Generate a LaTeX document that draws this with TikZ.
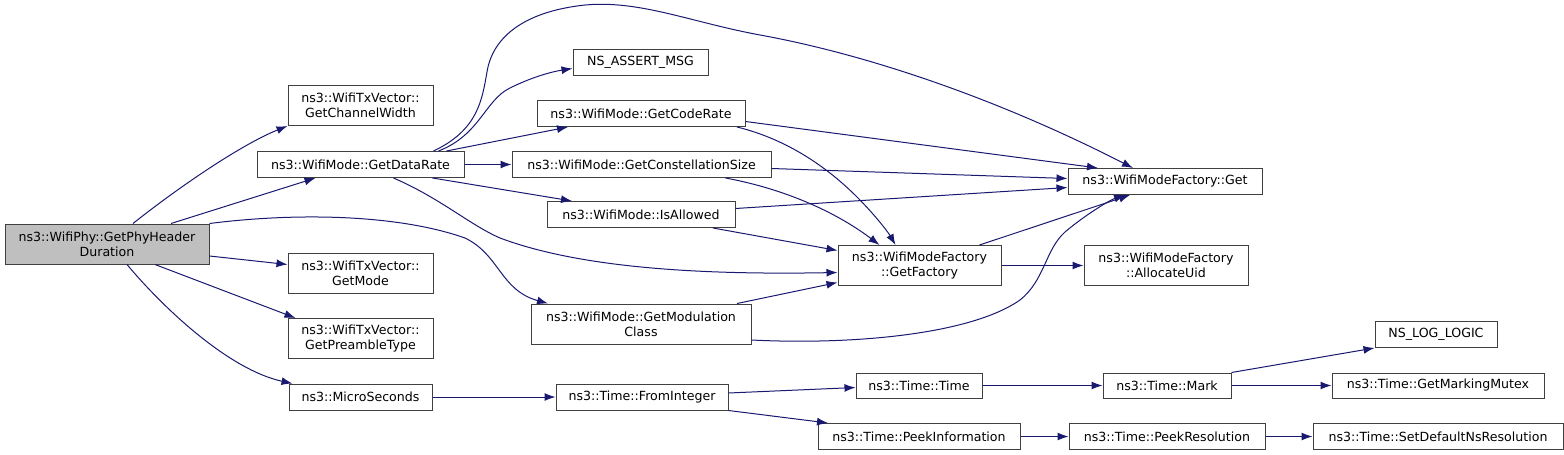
\documentclass[tikz,border=0pt]{standalone}
\usepackage{fontspec}
\setsansfont{DejaVu Sans}
\usepackage{tikz}
\usetikzlibrary{arrows.meta,positioning}
\definecolor{CallBlue}{HTML}{191970}
\definecolor{RootGray}{HTML}{BFBFBF}
\definecolor{EdgeGray}{HTML}{404040}

\begin{document}
\begin{tikzpicture}[
  x=1pt,y=-1pt,
  fn/.style={draw=EdgeGray,fill=white,line width=1pt,inner sep=0pt,minimum height=26pt,align=center,font=\sffamily\fontsize{12.6}{14.7}\selectfont},
  fntwo/.style={fn,minimum height=40pt},
  root/.style={fntwo,fill=RootGray},
  call/.style={-{Latex[length=11pt,width=8pt]},draw=CallBlue,line width=1pt}
]
\useasboundingbox (0,0) rectangle (1564,455);
\node[root,minimum width=204pt] (phy) at (107,244) {ns3::WifiPhy::GetPhyHeader\\Duration};
\node[fntwo,minimum width=145pt] (chw) at (360.5,105.5) {ns3::WifiTxVector::\\GetChannelWidth};
\node[fn,minimum width=207pt] (dr) at (360.5,164.5) {ns3::WifiMode::GetDataRate};
\node[fntwo,minimum width=145pt] (gm) at (360.5,273.5) {ns3::WifiTxVector::\\GetMode};
\node[fntwo,minimum width=145pt] (gpt) at (360.5,338.5) {ns3::WifiTxVector::\\GetPreambleType};
\node[fn,minimum width=143pt] (ms) at (360.5,397) {ns3::MicroSeconds};
\node[fn,minimum width=135pt] (assert) at (640.5,62.5) {NS\_ASSERT\_MSG};
\node[fn,minimum width=208pt] (cr) at (641,113.5) {ns3::WifiMode::GetCodeRate};
\node[fn,minimum width=259pt,right=47pt of dr] (cs) {ns3::WifiMode::GetConstellationSize};
\node[fn,minimum width=188pt] (ia) at (641,214.5) {ns3::WifiMode::IsAllowed};
\node[fntwo,minimum width=220pt] (mc) at (641,324) {ns3::WifiMode::GetModulation\\Class};
\node[fn,minimum width=172pt,right=123pt of ms] (fi) {ns3::Time::FromInteger};
\node[fntwo,minimum width=163pt] (gf) at (919.5,265.5) {ns3::WifiModeFactory\\::GetFactory};
\node[fn,minimum width=126pt,minimum height=25pt] (tt) at (919,385.5) {ns3::Time::Time};
\node[fn,minimum width=202pt] (pi) at (919,436.5) {ns3::Time::PeekInformation};
\node[fn,minimum width=194pt] (get) at (1165,181.5) {ns3::WifiModeFactory::Get};
\node[fntwo,minimum width=164pt,right=82pt of gf] (uid) {ns3::WifiModeFactory\\::AllocateUid};
\node[fn,minimum width=128pt,minimum height=25pt,right=120pt of tt] (mark) {ns3::Time::Mark};
\node[fn,minimum width=196pt,right=48pt of pi] (pr) {ns3::Time::PeekResolution};
\node[fn,minimum width=122pt] (log) at (1436,334.5) {NS\_LOG\_LOGIC};
\node[fn,minimum width=212pt,minimum height=25pt,right=100pt of mark] (mutex) {ns3::Time::GetMarkingMutex};
\node[fn,minimum width=250pt,right=47pt of pr] (sdr) {ns3::Time::SetDefaultNsResolution};
\draw[call] ([xshift=26pt]phy.north) .. controls (175,190) and (240,145) .. (chw.south west);
\draw[call] ([xshift=64pt]phy.north) -- ([xshift=-45pt]dr.south);
\draw[call] (phy.north east) .. controls (300,212) and (400,215) .. (465,238) .. controls (500,255) and (500,290) .. ([xshift=-93pt]mc.north);
\draw[call] ([yshift=-12pt]phy.east) -- ([yshift=9pt]gm.west);
\draw[call] ([xshift=48pt]phy.south) -- ([xshift=-65pt]gpt.north);
\draw[call] ([xshift=20pt]phy.south) .. controls (165,310) and (230,370) .. ([xshift=-68pt]ms.north);
\draw[call] ([xshift=73pt]dr.north) .. controls (478,130) and (482,100) .. (487,72) .. controls (492,40) and (520,12) .. (585,5) .. controls (640,0) and (690,22) .. (760,35) .. controls (870,55) and (1000,100) .. ([xshift=-32pt]get.north);
\draw[call] ([xshift=78pt]dr.north) .. controls (480,135) and (485,100) .. (510,88) .. controls (530,78) and (550,72) .. ([yshift=-6pt]assert.west);
\draw[call] ([xshift=86pt]dr.north) -- ([xshift=-73pt]cr.south);
\draw[call] (dr) -- (cs);
\draw[call] ([xshift=72pt]dr.south) -- ([xshift=-69pt]ia.north);
\draw[call] ([xshift=33pt]dr.south) .. controls (440,198) and (470,225) .. (500,238) .. controls (580,268) and (700,275) .. ([yshift=-7pt]gf.west);
\draw[call] ([yshift=-8pt]cr.east) -- ([xshift=-67pt]get.north);
\draw[call] ([xshift=96pt]cr.south) .. controls (790,140) and (830,170) .. (857,197) .. controls (875,215) and (888,232) .. ([xshift=-24pt]gf.north);
\draw[call] ([yshift=-4pt]cs.east) -- ([yshift=3pt]get.west);
\draw[call] ([xshift=84pt]cs.south) .. controls (790,190) and (840,215) .. ([xshift=-40pt]gf.north);
\draw[call] ([yshift=6pt]ia.east) -- ([yshift=-6pt]get.west);
\draw[call] ([xshift=72pt]ia.south) -- ([yshift=15pt]gf.west);
\draw[call] ([xshift=96pt]mc.north) -- ([yshift=-17pt]gf.west);
\draw[call] ([yshift=-16pt]mc.east) .. controls (850,345) and (970,335) .. (1020,300) .. controls (1045,280) and (1045,250) .. (1065,232) .. controls (1085,215) and (1110,200) .. ([xshift=-40pt]get.south);
\draw[call] ([xshift=60pt]gf.north) -- ([xshift=-35pt]get.south);
\draw[call] (gf) -- (uid);
\draw[call] (ms) -- (fi);
\draw[call] ([yshift=4pt]fi.east) -- ([yshift=-2pt]tt.west);
\draw[call] (fi.south east) -- ([xshift=-91pt]pi.north);
\draw[call] (tt) -- (mark);
\draw[call] (mark.north east) -- (log.south west);
\draw[call] (mark) -- (mutex);
\draw[call] (pi) -- (pr);
\draw[call] (pr) -- (sdr);
\end{tikzpicture}
\end{document}
